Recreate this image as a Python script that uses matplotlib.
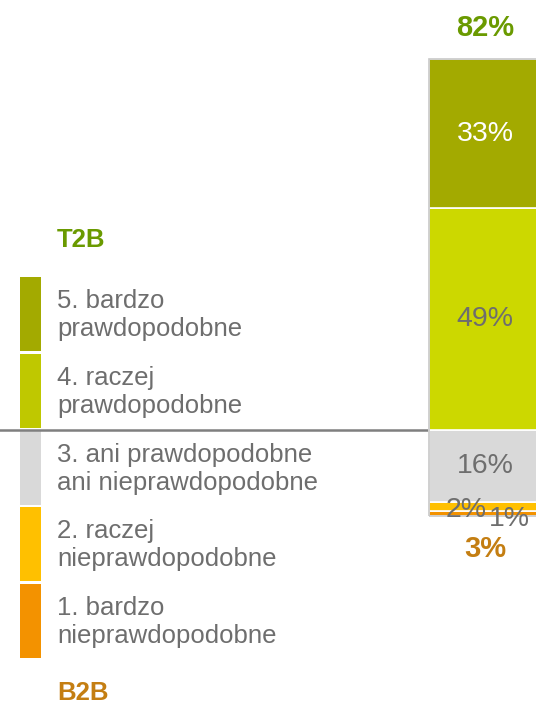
import matplotlib
matplotlib.use("Agg")
import matplotlib.pyplot as plt
from matplotlib.patches import Rectangle

# data (top to bottom of the stacked bar)
categories = ['5. bardzo\nprawdopodobne', '4. raczej\nprawdopodobne',
              '3. ani prawdopodobne\nani nieprawdopodobne',
              '2. raczej\nnieprawdopodobne', '1. bardzo\nnieprawdopodobne']
values = [33, 49, 16, 2, 1]
t2b_value = 82
b2b_value = 3
colors = ['#A3AA00', '#CCD800', '#D9D9D9', '#FFC000', '#F39200']
legend_colors = ['#A3AA00', '#BFC800', '#D9D9D9', '#FFC000', '#F39200']
label_colors = ['white', '#6E6E6E', '#6E6E6E', '#6E6E6E', '#6E6E6E']

W, H = 536, 707
fig = plt.figure(figsize=(W / 100, H / 100), dpi=100)
plt.rcParams['font.family'] = ['Liberation Sans', 'DejaVu Sans']

# ---- bar axes (full width, y in percent) ----
bar_bottom_px, bar_top_px = 516, 59
total = sum(values)
ax = fig.add_axes([0, (H - bar_bottom_px) / H, 1, (bar_bottom_px - bar_top_px) / H])
ax.set_xlim(0, W)
ax.set_ylim(0, total)
ax.axis('off')

bar_left, bar_width = 429, 130
bottom = 0
bottoms = []
for v, c in zip(values[::-1], colors[::-1]):
    ax.bar(bar_left, v, width=bar_width, bottom=bottom, align='edge',
           color=c, edgecolor='white', linewidth=1.2, clip_on=False, zorder=2)
    bottoms.append(bottom)
    bottom += v
bottoms = bottoms[::-1]
ax.add_patch(Rectangle((bar_left, 0), bar_width, total, fill=False,
                       edgecolor='#C8C8C8', linewidth=1.2, zorder=3, clip_on=False))

# separator line between T2B part and the rest
sep = values[2] + values[3] + values[4]
ax.plot([0, bar_left], [sep, sep], color='#7F7F7F', linewidth=1.8, zorder=1, clip_on=False)

cx = bar_left + 56
pct_font = 20.5
for i, (v, b) in enumerate(zip(values, bottoms)):
    y = b + v / 2
    x = cx
    if i == 3:
        x, y = cx - 19, b + 0.3
    elif i == 4:
        x, y = cx + 24, b - 0.6
    ax.text(x, y, f'{v}%', ha='center', va='center', fontsize=pct_font,
            color=label_colors[i], zorder=4)

ax.text(cx, total + 6.8, f'{t2b_value}%', ha='center', va='center',
        fontsize=21, fontweight='bold', color='#6A9A00')
ax.text(cx, -7.3, f'{b2b_value}%', ha='center', va='center',
        fontsize=21, fontweight='bold', color='#C47E12')

# ---- legend (pixel coordinates) ----
lg = fig.add_axes([0, 0, 1, 1], zorder=-1)
lg.set_xlim(0, W)
lg.set_ylim(H, 0)
lg.axis('off')
sw_top = [277, 354, 431, 507, 584]
sw_h = 74
for top, c, lab in zip(sw_top, legend_colors, categories):
    lg.add_patch(Rectangle((20, top), 21, sw_h, color=c, linewidth=0))
    lg.text(57, top + sw_h / 2 + 1, lab, ha='left', va='center', fontsize=18.5,
            color='#6E6E6E', linespacing=1.2)

lg.text(57, 240, 'T2B', ha='left', va='center', fontsize=18.5, fontweight='bold',
        color='#6A9A00')
lg.text(57, 693, 'B2B', ha='left', va='center', fontsize=18.5, fontweight='bold',
        color='#C47E12')

fig.savefig('out.png', dpi=100)
